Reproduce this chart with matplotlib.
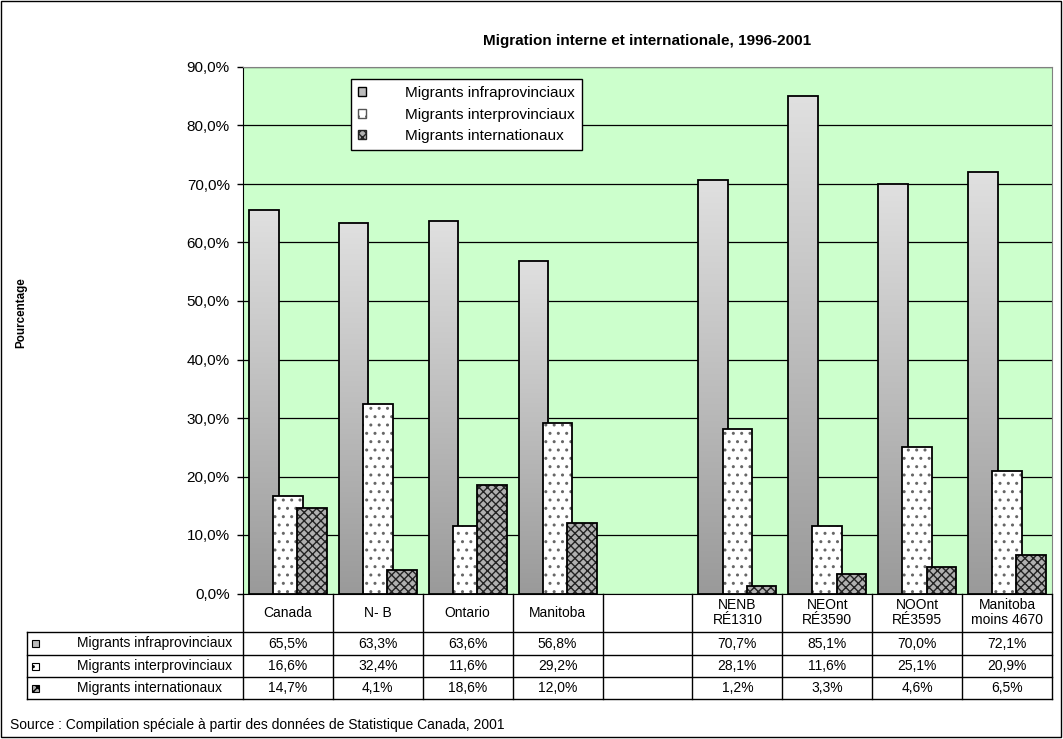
import numpy as np
import matplotlib
matplotlib.use('Agg')
import matplotlib.pyplot as plt
from matplotlib.patches import Patch, Rectangle
from matplotlib.colors import LinearSegmentedColormap

plt.rcParams['font.family'] = ['Liberation Sans', 'DejaVu Sans']

# data
categories = ['Canada', 'N- B', 'Ontario', 'Manitoba', '',
              'NENB\nRÉ1310', 'NEOnt\nRÉ3590', 'NOOnt\nRÉ3595', 'Manitoba\nmoins 4670']
infra = [65.5, 63.3, 63.6, 56.8, np.nan, 70.7, 85.1, 70.0, 72.1]
inter = [16.6, 32.4, 11.6, 29.2, np.nan, 28.1, 11.6, 25.1, 20.9]
intl = [14.7, 4.1, 18.6, 12.0, np.nan, 1.2, 3.3, 4.6, 6.5]
series_names = ['Migrants infraprovinciaux', 'Migrants interprovinciaux', 'Migrants internationaux']
yticks = [0, 10, 20, 30, 40, 50, 60, 70, 80, 90]

W, H = 1063, 739
fig = plt.figure(figsize=(W / 100, H / 100), dpi=100)

# plot area in pixels
px_left, px_right, px_top, px_bot = 243, 1052, 67, 593.5
ax = fig.add_axes([px_left / W, 1 - px_bot / H, (px_right - px_left) / W, (px_bot - px_top) / H])
ax.set_facecolor('#ccffcc')

n = len(categories)
x = np.arange(n)
bw = 0.33
off = 0.27

gray_cmap = LinearSegmentedColormap.from_list('g', ['#9a9a9a', '#e0e0e0'])
grad = np.linspace(0, 1, 256).reshape(-1, 1)

for xi, v in zip(x, infra):
    if np.isnan(v):
        continue
    x0 = xi + 0.5 - off - bw / 2
    ax.imshow(grad, extent=(x0, x0 + bw, 0, v), origin='lower', aspect='auto',
              cmap=gray_cmap, zorder=2)
    ax.bar(x0 + bw / 2, v, bw, fill=False, edgecolor='black', lw=1.3, zorder=3)

ax.bar(x + 0.5, inter, bw, color='white', hatch='..', edgecolor='#666666', lw=0, zorder=4)
ax.bar(x + 0.5, inter, bw, fill=False, edgecolor='black', lw=1.3, zorder=5)
ax.bar(x + 0.5 + off, intl, bw, color='#b0b0b0', hatch='xxxx', edgecolor='#222222', lw=0, zorder=6)
ax.bar(x + 0.5 + off, intl, bw, fill=False, edgecolor='black', lw=1.3, zorder=7)

ax.set_xlim(0, n)
ax.set_ylim(0, 90)
ax.set_yticks(yticks)
ax.set_yticklabels([f'{t:.1f}%'.replace('.', ',') for t in yticks], fontsize=11)
ax.set_xticks([])
ax.tick_params(axis='y', direction='out', length=4.5, width=1, pad=5)
ax.grid(axis='y', color='black', lw=0.9, zorder=1)
ax.set_axisbelow(True)
for s in ['top', 'right']:
    ax.spines[s].set_color('#808080')
for s in ['left', 'bottom']:
    ax.spines[s].set_color('black')

ax.set_title('Migration interne et internationale, 1996-2001', fontsize=11,
             fontweight='bold', pad=16, x=0.5)
fig.text(21 / W, 1 - 313 / H, 'Pourcentage', rotation=90, fontsize=8.4,
         fontweight='bold', ha='center', va='center')

# legend
handles = [Patch(facecolor='#bbbbbb', edgecolor='black'),
           Patch(facecolor='white', edgecolor='#555555', hatch='..'),
           Patch(facecolor='#b0b0b0', edgecolor='#222222', hatch='xxxx')]
leg = fig.legend(handles, series_names, loc='upper left',
                 bbox_to_anchor=(351 / W, 1 - 79 / H), fontsize=11,
                 frameon=True, fancybox=False, edgecolor='black', framealpha=1,
                 handlelength=0.55, handleheight=0.55, handletextpad=2.55,
                 borderpad=0.45, labelspacing=0.5, borderaxespad=0)
leg.get_frame().set_linewidth(1)

# data table below the plot, drawn in pixel coords
tax = fig.add_axes([0, 0, 1, 1])
tax.set_xlim(0, W)
tax.set_ylim(H, 0)
tax.axis('off')

col_w = (px_right - px_left) / n
row_y = [px_bot, 632, 655, 677, 699]
lab_x = 27
lw_t = 1.0
for yy in row_y[1:]:
    tax.plot([lab_x, px_right], [yy, yy], color='black', lw=lw_t)
for i in range(n + 1):
    xx = px_left + i * col_w
    tax.plot([xx, xx], [row_y[0], row_y[-1]], color='black', lw=lw_t)
tax.plot([lab_x, lab_x], [row_y[1], row_y[-1]], color='black', lw=lw_t)

for i, c in enumerate(categories):
    tax.text(px_left + (i + 0.5) * col_w, (row_y[0] + row_y[1]) / 2, c,
             ha='center', va='center', fontsize=10, linespacing=1.1)

series = [infra, inter, intl]
for r, (vals, name, h) in enumerate(zip(series, series_names, handles)):
    yc = (row_y[r + 1] + row_y[r + 2]) / 2
    tax.add_patch(Rectangle((32, yc - 3.5), 7, 7, facecolor=h.get_facecolor(),
                            edgecolor='black', hatch=h.get_hatch(), lw=0.8))
    tax.text(77, yc, name, ha='left', va='center', fontsize=10)
    for i, v in enumerate(vals):
        if np.isnan(v):
            continue
        tax.text(px_left + (i + 0.5) * col_w, yc, f'{v:.1f}%'.replace('.', ','),
                 ha='center', va='center', fontsize=10)

tax.text(10, 725, 'Source : Compilation spéciale à partir des données de Statistique Canada, 2001',
         ha='left', va='center', fontsize=10)

# outer border
tax.add_patch(Rectangle((1, 1), W - 3, H - 3, fill=False, edgecolor='black', lw=1))

fig.savefig('out.png', dpi=100)
